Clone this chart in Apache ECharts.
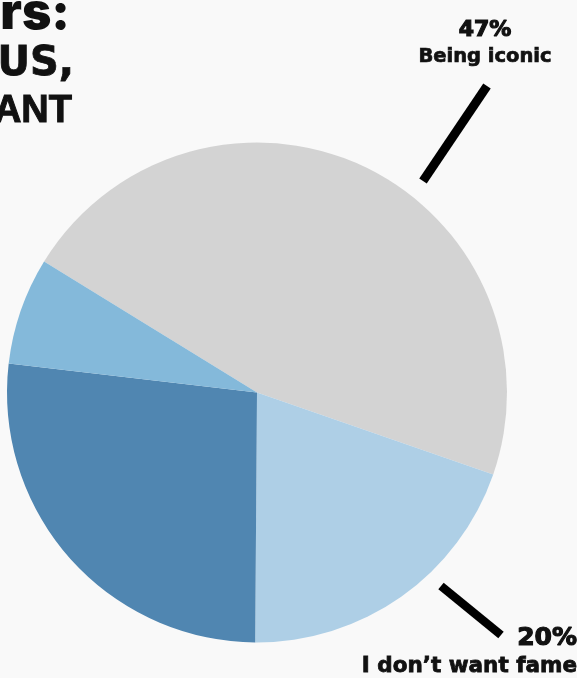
<!DOCTYPE html>
<html><head><meta charset="utf-8">
<script src="https://cdn.jsdelivr.net/npm/echarts@6/dist/echarts.min.js"></script>
<style>html,body{margin:0;padding:0;background:#f9f9f9;overflow:hidden}#c{width:577px;height:678px}</style>
</head><body><div id="c"></div>
<script>
// Data
const categories = ['Being iconic', 'I don\u2019t want fame', '', ''];
const values = [47, 20, 27, 7];
const colors = ['#d3d3d3', '#aecfe6', '#5086b1', '#84b9da'];
const labelled = [true, true, false, false];
const titleLines = ['rs:', 'US,', 'ANT'];

const chart = echarts.init(document.getElementById('c'), null, {renderer: 'canvas'});
const labelPos = [
  {x: 485, y: 42, align: 'center'},
  {x: 577, y: 651, align: 'right'}
];
const F = '"DejaVu Sans"';
const ink = '#111';
const richTop = {
  pct: {fontFamily: F, fontWeight: 'bold', fontSize: 22, color: ink, textBorderColor: ink, textBorderWidth: 1.2, lineHeight: 30, align: 'center'},
  nm: {fontFamily: F, fontWeight: 'bold', fontSize: 19.5, color: ink, textBorderColor: ink, textBorderWidth: 0.7, lineHeight: 24, align: 'center'}
};
const richBot = {
  pct: {fontFamily: F, fontWeight: 'bold', fontSize: 25, color: ink, textBorderColor: ink, textBorderWidth: 1.2, lineHeight: 31, align: 'right'},
  nm: {fontFamily: F, fontWeight: 'bold', fontSize: 21.5, color: ink, textBorderColor: ink, textBorderWidth: 0.8, lineHeight: 26, align: 'right'}
};

const data = categories.map((name, i) => ({
  name: name,
  value: values[i],
  itemStyle: {color: colors[i]},
  label: labelled[i] ? {
    show: true,
    formatter: '{pct|{c}%}\n{nm|{b}}',
    rich: i === 0 ? richTop : richBot
  } : {show: false}
}));

chart.setOption({
  backgroundColor: '#f9f9f9',
  animation: false,
  graphic: [
    {type: 'text', style: {text: titleLines[0], x: 70, y: 14, align: 'right', verticalAlign: 'middle', font: '900 50px Inter', fill: ink}},
    {type: 'text', style: {text: titleLines[1], x: 74, y: 65, align: 'right', verticalAlign: 'middle', font: 'bold 40px "DejaVu Sans"', fill: ink, stroke: ink, lineWidth: 0.8}},
    {type: 'text', style: {text: titleLines[2], x: 72, y: 112, align: 'right', verticalAlign: 'middle', font: 'bold 38px "Liberation Sans"', fill: ink, stroke: ink, lineWidth: 1}},
    {type: 'line', shape: {x1: 487, y1: 86, x2: 423, y2: 181}, style: {stroke: '#000', lineWidth: 9}},
    {type: 'line', shape: {x1: 441, y1: 586, x2: 501, y2: 635}, style: {stroke: '#000', lineWidth: 8.5}}
  ],
  series: [{
    type: 'pie',
    center: [257, 392.5],
    radius: 250,
    startAngle: 148.4,
    clockwise: true,
    avoidLabelOverlap: false,
    emphasis: {disabled: true},
    labelLine: {show: false},
    label: {position: 'outside'},
    labelLayout: function (p) {
      const lp = labelPos[p.dataIndex];
      if (!lp) return {};
      return {x: lp.x, y: lp.y, align: lp.align, verticalAlign: 'middle', hideOverlap: false};
    },
    data: data
  }]
});
</script></body></html>
